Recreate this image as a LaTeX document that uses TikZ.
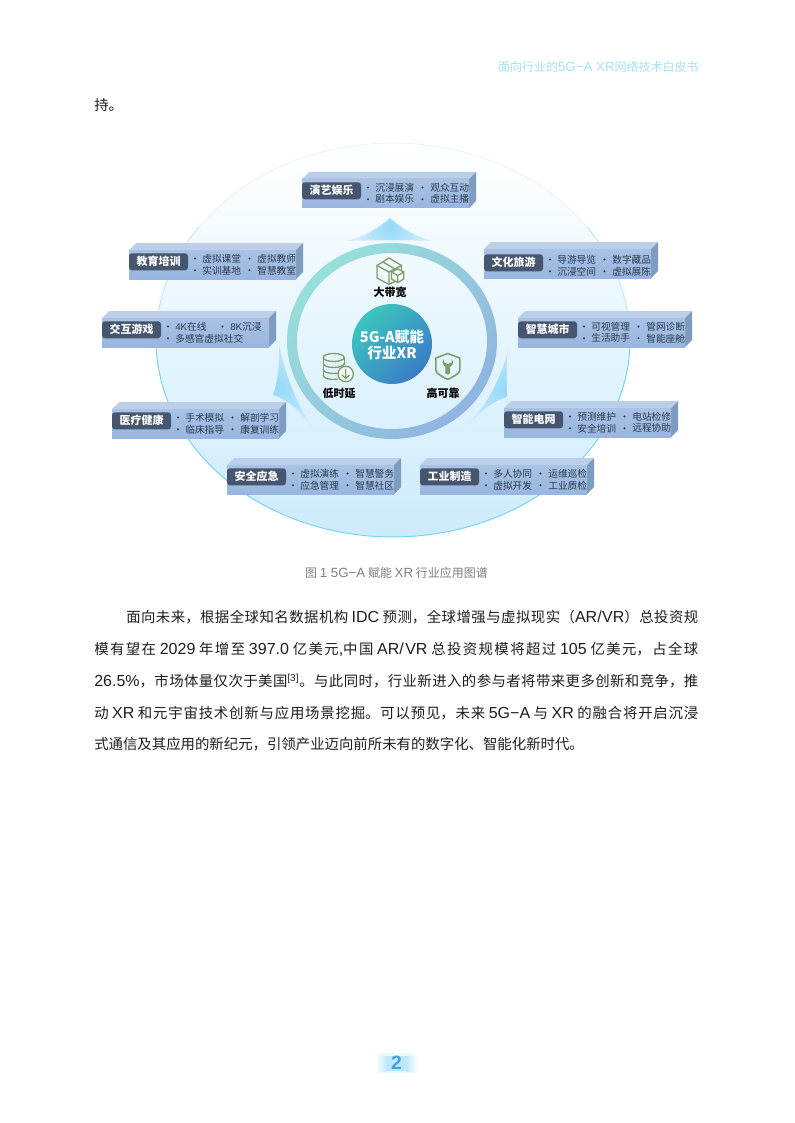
\documentclass[tikz,border=0pt]{standalone}
\usepackage{fontspec}
\setmainfont{Noto Sans CJK SC}
\newfontfamily\latf{Liberation Sans}
\newcommand{\lat}[1]{{\latf #1}}
\newcommand{\blat}[1]{{\latf\fontsize{12pt}{14pt}\selectfont #1}}
\newcommand{\clat}[1]{{\latf\fontsize{10pt}{11pt}\selectfont #1}}
\usetikzlibrary{calc}
\definecolor{boxdark}{HTML}{46566F}
\definecolor{boxtop}{HTML}{BCCFE8}
\definecolor{boxfa}{HTML}{A9C2E4}
\definecolor{boxfb}{HTML}{98B6E0}
\definecolor{boxside}{HTML}{7E9BC0}
\definecolor{itemtx}{HTML}{2B394D}
\definecolor{icong}{HTML}{7F9F68}
\definecolor{headc}{HTML}{A3E1FA}
\definecolor{capc}{HTML}{7F7F7F}
\definecolor{bodyc}{HTML}{1E1E1E}
\definecolor{edgeA}{HTML}{E6F3F8}
\definecolor{edgeB}{HTML}{B8E6F4}
\definecolor{edgeC}{HTML}{72D5EF}
\definecolor{bgm}{HTML}{F0F8FE}
\definecolor{bgb}{HTML}{CDEBFC}
\definecolor{ringa}{HTML}{97E0DA}
\definecolor{ringb}{HTML}{8FB4E0}
\definecolor{corea}{HTML}{3CC6BE}
\definecolor{coreb}{HTML}{3A7CC6}
\definecolor{finc}{HTML}{95D9F7}
\definecolor{finbg}{HTML}{F2F9FE}
\definecolor{finbh}{HTML}{E6F4FD}
\definecolor{pgnum}{HTML}{3FA3E0}
\definecolor{pgbg}{HTML}{BDE6F9}
\tikzset{
  itemtext/.style={anchor=west,inner sep=0pt,font=\fontsize{7.3pt}{9pt}\selectfont,text=itemtx},
  tagtext/.style={inner sep=0pt,font=\fontsize{8.25pt}{10pt}\selectfont\bfseries,text=white},
  keytext/.style={inner sep=0pt,font=\fontsize{8.25pt}{10pt}\selectfont\bfseries,text=black},
  bodytext/.style={anchor=west,inner sep=0pt,text=bodyc,font=\fontsize{10.8pt}{14pt}\selectfont},
  iconline/.style={draw=icong,line width=1pt,line join=round,line cap=round},
}
\newcommand{\cdy}{0}
\newcommand{\xrbox}[8]{%
 \begin{scope}[shift={(#2,#3)}]
  \fill[boxtop] (0,7)--(7,0)--(174,0)--(167,7)--cycle;
  \fill[boxside] (167,7)--(174,0)--(174,29)--(167,36)--cycle;
  \shade[top color=boxfa,bottom color=boxfb] (0,7) rectangle (167,36);
  \begin{scope}[yshift=-\cdy*0.75pt]
  \fill[boxdark,rounded corners=2.2pt] (0,10.3) rectangle (59,27.3);
  \node[tagtext] (#1) at (29.5,18.6) {#4};
  \fill[itemtx] (66,15.5) circle (1.15);
  \node[itemtext] (#1a) at (73,15.5) {#5};
  \fill[itemtx] (120.5,15.5) circle (1.15);
  \node[itemtext] (#1b) at (128,15.5) {#6};
  \fill[itemtx] (66,27.3) circle (1.15);
  \node[itemtext] (#1c) at (73,27.3) {#7};
  \if\relax\detokenize{#8}\relax\else
   \fill[itemtx] (120.5,27.3) circle (1.15);
   \node[itemtext] (#1d) at (128,27.3) {#8};
  \fi
  \end{scope}
 \end{scope}}
\newcommand{\bodyln}[5]{\node[bodytext] (#1) at (#2,#3) {\parbox{\dimexpr #4pt*3/4\relax}{\XeTeXlinebreaklocale "zh"\XeTeXlinebreakskip=0pt plus 3pt minus 0.3pt\parindent=0pt\parfillskip=0pt\tolerance=10000\emergencystretch=0pt #5}};}
\begin{document}
\begin{tikzpicture}[x=0.75pt,y=-0.75pt]
\useasboundingbox (0,0) rectangle (794,1123);
% header and top line
\node[anchor=east,inner sep=0pt,text=headc,font=\fontsize{9pt}{11pt}\selectfont] (head) at (699,66.5) {面向行业的\clat{5G−A XR}网络技术白皮书};
\node[bodytext] (chi) at (94,105) {持。};
% big shape
\shade[top color=white,middle color=bgm,bottom color=bgb] (393,340) ellipse (237 and 197);
\draw[edgeA,line width=0.5pt] plot[domain=215:325,samples=50] ({393+237*cos(\x)},{340+197*sin(\x)});
\draw[edgeB,line width=0.6pt] plot[domain=180:215,samples=20] ({393+237*cos(\x)},{340+197*sin(\x)});
\draw[edgeB,line width=0.6pt] plot[domain=325:360,samples=20] ({393+237*cos(\x)},{340+197*sin(\x)});
\draw[edgeC,line width=0.7pt] plot[domain=0:180,samples=80] ({393+237*cos(\x)},{340+197*sin(\x)});
% fins
\begin{scope}
 \clip (390,218) .. controls (378,229) and (365,236) .. (347,241) .. controls (375,240) and (405,240) .. (433,241) .. controls (415,236) and (402,229) .. (390,218) -- cycle;
 \shade[inner color=finc,outer color=finbg] (390,227) circle (56);
\end{scope}
\begin{scope}
 \clip (279,343) .. controls (280,362) and (278,380) .. (273,395) .. controls (290,400) and (302,414) .. (312,427) .. controls (296,402) and (285,375) .. (279,343) -- cycle;
 \shade[inner color=finc,outer color=finbh] (278,388) circle (70);
\end{scope}
\begin{scope}
 \clip (508,350) .. controls (506,368) and (507,382) .. (507,397) .. controls (490,402) and (478,414) .. (465,427) .. controls (485,408) and (500,382) .. (508,350) -- cycle;
 \shade[inner color=finc,outer color=finbh] (505,390) circle (70);
\end{scope}
% ring and core
\coordinate (rc) at (392,341);
\shade[even odd rule,top color=ringa,bottom color=ringb,shading angle=45] (rc) ellipse (105 and 98) (rc) ellipse (95 and 88);
\shade[top color=corea,bottom color=coreb,shading angle=45] (392,344) circle (40);
\node[inner sep=0pt,align=center,text=white,font=\fontsize{11pt}{12pt}\selectfont\bfseries] (core) at (392,345) {5G-A赋能\\行业XR};
% cube icon
\draw[iconline] (389,258)--(377,265.5)--(377,278)--(389,284.5)--(401.5,278)--(401.5,265.5)--cycle;
\draw[iconline] (377,265.5)--(389,272)--(401.5,265.5) (389,272)--(389,284.5) (383,262)--(395,269);
\fill[white!30!bgm] (397.7,269)--(403.8,272)--(403.8,279)--(397.7,282.5)--(391.5,279)--(391.5,272)--cycle;
\draw[iconline] (397.7,269)--(403.8,272)--(403.8,279)--(397.7,282.5)--(391.5,279)--(391.5,272)--cycle;
\draw[iconline] (391.5,272)--(397.7,275.5)--(403.8,272) (397.7,275.5)--(397.7,282.5);
\node[keytext] (band) at (390,292) {大带宽};
% database icon
\draw[iconline] (333.7,357.5) ellipse (10.5 and 4);
\draw[iconline] (323.2,357.5)--(323.2,375.5) (344.2,357.5)--(344.2,364);
\draw[iconline] (323.2,363.5) arc[start angle=180,end angle=360,x radius=10.5,y radius=-4];
\draw[iconline] (323.2,369.5) arc[start angle=180,end angle=310,x radius=10.5,y radius=-4];
\draw[iconline] (323.2,375.5) arc[start angle=180,end angle=290,x radius=10.5,y radius=-4];
\fill[white!30!bgm] (345.7,374) circle (8);
\draw[iconline] (345.7,374) circle (7.7);
\draw[iconline] (345.7,369.5)--(345.7,378.5) (342.2,375.2)--(345.7,378.5)--(349.2,375.2);
\node[keytext] (lat) at (339,393) {低时延};
% shield icon
\draw[iconline,line width=1.2pt] (447.7,353.5)--(459.8,358)--(459.8,370) .. controls (459.8,374) and (452,377) .. (447.7,379.5) .. controls (443.4,377) and (435.8,374) .. (435.8,370)--(435.8,358)--cycle;
\fill[icong,even odd rule] (444,359) -- (444,362.5) -- (447.7,364) -- (451.5,362.5) -- (451.5,359) .. controls (453.5,361) and (453.8,365) .. (450,367) -- (450,373) .. controls (450,375) and (445.4,375) .. (445.4,373) -- (445.4,367) .. controls (441.8,365) and (442,361) .. (444,359) -- cycle;
\node[keytext] (rel) at (443,393) {高可靠};
% boxes
\xrbox{ent}{302}{172}{演艺娱乐}{沉浸展演}{观众互动}{剧本娱乐}{虚拟主播}
\xrbox{edu}{129}{243}{教育培训}{虚拟课堂}{虚拟教师}{实训基地}{智慧教室}
\xrbox{gam}{102}{311}{交互游戏}{\lat{4K}在线}{\lat{8K}沉浸}{多感官虚拟社交}{}
\renewcommand{\cdy}{2}
\xrbox{tou}{484}{242}{文化旅游}{导游导览}{数字藏品}{沉浸空间}{虚拟展陈}
\renewcommand{\cdy}{0}
\xrbox{cit}{518}{311}{智慧城市}{可视管理}{管网诊断}{生活助手}{智能座舱}
\xrbox{med}{112}{402}{医疗健康}{手术模拟}{解剖学习}{临床指导}{康复训练}
\xrbox{saf}{227}{458}{安全应急}{虚拟演练}{智慧警务}{应急管理}{智慧社区}
\xrbox{gri}{504}{401}{智能电网}{预测维护}{电站检修}{安全培训}{远程协助}
\xrbox{ind}{420}{458}{工业制造}{多人协同}{运维巡检}{虚拟开发}{工业质检}
% caption
\node[inner sep=0pt,text=capc,font=\fontsize{9pt}{11pt}\selectfont] (cap) at (396.5,572.5) {图 \clat{1 5G−A} 赋能 \clat{XR} 行业应用图谱};
% body
\bodyln{l1}{126}{617}{572}{面向未来，根据全球知名数据机构 \blat{IDC} 预测，全球增强与虚拟现实（\blat{AR/VR}）总投资规}
\bodyln{l2}{94}{649}{604}{模有望在 \blat{2029} 年增至 \blat{397.0} 亿美元\blat{,}中国 \blat{AR/VR} 总投资规模将超过 \blat{105} 亿美元，占全球}
\bodyln{l3}{94}{681}{604}{\blat{26.5\%}，市场体量仅次于美国\textsuperscript{\lat{[3]}}。与此同时，行业新进入的参与者将带来更多创新和竞争，推}
\bodyln{l4}{94}{713}{604}{动 \blat{XR} 和元宇宙技术创新与应用场景挖掘。可以预见，未来 \blat{5G−A} 与 \blat{XR} 的融合将开启沉浸}
\node[bodytext] (l5) at (94,744) {式通信及其应用的新纪元，引领产业迈向前所未有的数字化、智能化新时代。};
% page number
\fill[pgbg!30] (379,1053) rectangle (415,1073);
\shade[left color=white,right color=pgbg] (376,1056) rectangle (387,1071);
\fill[pgbg] (387,1056) rectangle (406,1071);
\shade[left color=pgbg,right color=white] (406,1056) rectangle (417,1071);
\node[inner sep=0pt,text=pgnum,font=\fontsize{14.5pt}{15pt}\selectfont\bfseries\latf] (pg) at (396.5,1063) {2};
\end{tikzpicture}
\end{document}
